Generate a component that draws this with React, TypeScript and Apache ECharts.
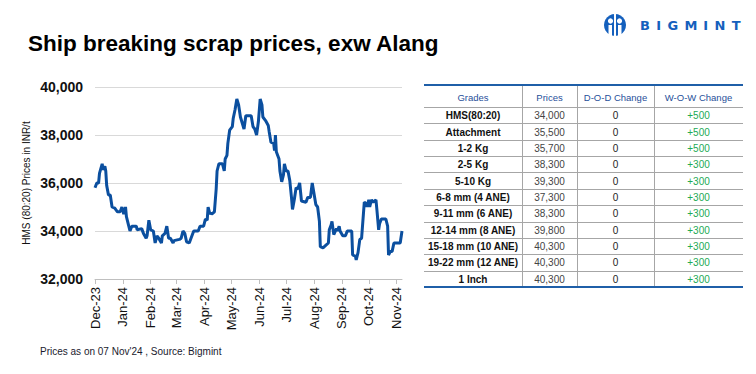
import React, { useEffect, useRef } from "react";
import * as echarts from "echarts";

// ---------- Data ----------
const DATES = [
  "2023-12-01","2023-12-03","2023-12-05","2023-12-06","2023-12-09","2023-12-10","2023-12-12","2023-12-13","2023-12-14","2023-12-16","2023-12-18","2023-12-20","2023-12-23","2023-12-26","2023-12-29","2023-12-31",
  "2024-01-02","2024-01-04","2024-01-05","2024-01-07","2024-01-09","2024-01-11","2024-01-16","2024-01-17","2024-01-22","2024-01-24","2024-01-27","2024-01-28","2024-01-30",
  "2024-02-01","2024-02-04","2024-02-06","2024-02-08","2024-02-10","2024-02-13","2024-02-14","2024-02-17","2024-02-19","2024-02-21","2024-02-23","2024-02-26","2024-02-27",
  "2024-03-04","2024-03-06","2024-03-08","2024-03-10","2024-03-12","2024-03-15","2024-03-18","2024-03-20","2024-03-25","2024-03-27","2024-03-31",
  "2024-04-02","2024-04-04","2024-04-05","2024-04-07","2024-04-08","2024-04-09","2024-04-12","2024-04-14","2024-04-15","2024-04-17","2024-04-21","2024-04-23","2024-04-24","2024-04-26","2024-04-27","2024-04-29",
  "2024-05-02","2024-05-03","2024-05-05","2024-05-07","2024-05-09","2024-05-11","2024-05-13","2024-05-15","2024-05-17","2024-05-23","2024-05-25","2024-05-27","2024-05-29","2024-05-31",
  "2024-06-02","2024-06-04","2024-06-05","2024-06-08","2024-06-11","2024-06-12","2024-06-14","2024-06-17","2024-06-18","2024-06-19","2024-06-20","2024-06-23","2024-06-24","2024-06-26","2024-06-28","2024-06-29",
  "2024-07-01","2024-07-03","2024-07-05","2024-07-07","2024-07-08","2024-07-10","2024-07-12","2024-07-14","2024-07-16","2024-07-18","2024-07-23","2024-07-25","2024-07-28","2024-07-30",
  "2024-08-01","2024-08-03","2024-08-05","2024-08-07","2024-08-08","2024-08-11","2024-08-14","2024-08-17","2024-08-18","2024-08-20","2024-08-21","2024-08-23","2024-08-26","2024-08-27","2024-08-29","2024-08-30",
  "2024-09-02","2024-09-05","2024-09-07","2024-09-12","2024-09-13","2024-09-16","2024-09-17","2024-09-19","2024-09-21","2024-09-23","2024-09-26","2024-09-28","2024-09-29",
  "2024-10-01","2024-10-02","2024-10-04","2024-10-06","2024-10-09","2024-10-10","2024-10-12","2024-10-13","2024-10-15","2024-10-20","2024-10-22","2024-10-23","2024-10-25","2024-10-27","2024-10-29",
  "2024-11-05","2024-11-07",
];
const PRICES = [
  35800,36000,36000,36400,36800,36550,36700,36500,35900,35500,35500,35000,34950,34800,34800,35000,
  34700,35000,34600,34300,34000,34200,34200,34050,34100,33900,33700,33800,34450,
  34050,34000,33500,33800,33700,33500,33800,33900,34200,33700,33700,33500,33600,
  33650,33700,34000,33900,33550,33500,33800,34000,34000,34200,34200,
  34500,34450,35000,34700,34750,34700,34800,35750,36500,36800,36800,36500,37000,37150,37650,38200,
  38350,38700,39050,39500,39250,38750,38500,38250,38800,38800,38350,38250,38000,38550,
  39500,39250,38750,38600,38400,38150,37700,37650,37350,38000,37300,37000,36500,36050,36350,36800,
  36500,36500,36100,35350,34900,35300,35800,35750,36000,35250,35200,35400,35400,36000,
  35550,35100,35000,34400,33350,33300,33400,33500,34050,34250,34400,33850,34100,34000,34200,34000,
  33800,33800,34000,34000,33000,32950,32800,33100,33650,33700,35200,35150,35000,
  35300,35000,35300,35200,35300,34900,34050,34300,34500,34500,34200,33000,33150,33150,33500,
  33500,34000,
];
const MONTH_ABBR = ["Jan","Feb","Mar","Apr","May","Jun","Jul","Aug","Sep","Oct","Nov","Dec"];
const Y_MIN = 32000;
const Y_MAX = 40000;
const Y_STEP = 2000;

const TABLE_HEADERS = ["Grades", "Prices", "D-O-D Change", "W-O-W Change"];
const GRADES = ["HMS(80:20)","Attachment","1-2 Kg","2-5 Kg","5-10 Kg","6-8 mm (4 ANE)","9-11 mm (6 ANE)","12-14 mm (8 ANE)","15-18 mm (10 ANE)","19-22 mm (12 ANE)","1 Inch"];
const GRADE_PRICES = ["34,000","35,500","35,700","38,300","39,300","37,300","38,300","39,800","40,300","40,300","40,300"];
const DOD_CHANGE = ["0","0","0","0","0","0","0","0","0","0","0"];
const WOW_CHANGE = ["+500","+500","+500","+300","+300","+300","+300","+300","+300","+300","+300"];

const TITLE = "Ship breaking scrap prices, exw Alang";
const FOOTNOTE = "Prices as on 07 Nov'24 , Source: Bigmint";
const Y_NAME = "HMS (80:20) Prices in INR/t";
const BRAND = "BIGMINT";

const FONT = "Liberation Sans";

function buildTable(): any[] {
  const els: any[] = [];
  const x0 = 424, x1 = 743;
  const colX = [424, 522, 577, 654, 743];
  const top = 85, headerH = 22;
  const rowH = (287 - (top + headerH)) / GRADES.length;
  const bottom = top + headerH + rowH * GRADES.length;
  for (let c = 1; c < colX.length - 1; c++) {
    els.push({ type: "line", shape: { x1: colX[c] + 0.5, y1: top, x2: colX[c] + 0.5, y2: bottom }, style: { stroke: "#a6a6a6", lineWidth: 1 } });
  }
  for (let r = 0; r < GRADES.length; r++) {
    const y = Math.round(top + headerH + rowH * r) + 0.5;
    els.push({ type: "line", shape: { x1: x0, y1: y, x2: x1, y2: y }, style: { stroke: "#a6a6a6", lineWidth: 1 } });
  }
  els.push({ type: "line", shape: { x1: x0, y1: top, x2: x1, y2: top }, style: { stroke: "#1f5fa8", lineWidth: 2 } });
  els.push({ type: "line", shape: { x1: x0, y1: bottom, x2: x1, y2: bottom }, style: { stroke: "#1f5fa8", lineWidth: 2 } });
  TABLE_HEADERS.forEach((h, c) => {
    els.push({
      type: "text",
      x: (colX[c] + colX[c + 1]) / 2,
      y: top + headerH / 2 + 1,
      style: { text: h, fill: "#1f4f9a", font: `9.5px "${FONT}"`, align: "center", verticalAlign: "middle" },
    });
  });
  GRADES.forEach((g, r) => {
    const cy = top + headerH + rowH * r + rowH / 2 + 0.5;
    const cells = [
      { t: g, fill: "#111", font: `bold 10px "${FONT}"` },
      { t: GRADE_PRICES[r], fill: "#444", font: `10px "${FONT}"` },
      { t: DOD_CHANGE[r], fill: "#222", font: `10px "${FONT}"` },
      { t: WOW_CHANGE[r], fill: "#22aa55", font: `10px "${FONT}"` },
    ];
    cells.forEach((cell, c) => {
      els.push({
        type: "text",
        x: (colX[c] + colX[c + 1]) / 2,
        y: cy,
        style: { text: cell.t, fill: cell.fill, font: cell.font, align: "center", verticalAlign: "middle" },
      });
    });
  });
  return els;
}

function buildLogo(): any[] {
  const cx = 615, cy = 25;
  const els: any[] = [
    { type: "circle", shape: { cx, cy, r: 11 }, style: { fill: "#1560bd" } },
    { type: "circle", shape: { cx: cx - 4.5, cy: cy - 4, r: 2.6 }, style: { fill: "#fff" } },
    { type: "circle", shape: { cx: cx + 4.5, cy: cy - 4, r: 2.6 }, style: { fill: "#fff" } },
    { type: "rect", shape: { x: cx - 1, y: cy - 11, width: 2, height: 22 }, style: { fill: "#fff" } },
    { type: "rect", shape: { x: cx - 6.5, y: cy, width: 3.5, height: 11 }, style: { fill: "#fff" } },
    { type: "rect", shape: { x: cx + 3, y: cy, width: 3.5, height: 11 }, style: { fill: "#fff" } },
  ];
  const widths: Record<string, number> = { B: 10, I: 4.9, G: 10.6, M: 12.6, N: 10.9, T: 9.5 };
  let x = 640;
  const gap = 6.3;
  BRAND.split("").forEach((ch) => {
    els.push({
      type: "text",
      x,
      y: cy,
      style: { text: ch, fill: "#1560bd", font: `bold 13px "DejaVu Sans"`, verticalAlign: "middle" },
    });
    x += (widths[ch] || 10) + gap;
  });
  return els;
}

export default function App() {
  const ref = useRef<HTMLDivElement>(null);
  useEffect(() => {
    if (!ref.current) return;
    const chart = echarts.init(ref.current, null, { renderer: "svg" });
    const DAY = 24 * 3600 * 1000;
    const data = DATES.map((d, i) => [d, PRICES[i]]);
    chart.setOption({
      animation: false,
      backgroundColor: "#fff",
      textStyle: { fontFamily: FONT },
      grid: { left: 95, right: 354, top: 87, bottom: 95, containLabel: false },
      xAxis: {
        type: "time",
        min: DATES[0],
        max: DATES[DATES.length - 1],
        minInterval: 28 * DAY,
        maxInterval: 31 * DAY,
        splitNumber: 12,
        axisLine: { show: true, lineStyle: { color: "#bfbfbf", width: 1 } },
        axisTick: { show: true, length: 5, lineStyle: { color: "#bfbfbf" } },
        splitLine: { show: false },
        axisLabel: {
          rotate: 90,
          margin: 8,
          color: "#111",
          fontSize: 13,
          fontFamily: FONT,
          showMinLabel: true,
          hideOverlap: false,
          formatter: (v: number) => {
            const d = new Date(v);
            return `${MONTH_ABBR[d.getMonth()]}-${String(d.getFullYear()).slice(2)}`;
          },
        },
      },
      yAxis: {
        type: "value",
        min: Y_MIN,
        max: Y_MAX,
        interval: Y_STEP,
        name: Y_NAME,
        nameLocation: "middle",
        nameGap: 64,
        nameTextStyle: { fontSize: 10, color: "#111", fontFamily: FONT },
        axisLine: { show: false },
        axisTick: { show: false },
        splitLine: { lineStyle: { color: "#d9d9d9", width: 1 } },
        axisLabel: {
          margin: 12,
          color: "#111",
          fontSize: 14,
          fontWeight: "bold",
          fontFamily: FONT,
          formatter: (v: number) => v.toLocaleString("en-US"),
        },
      },
      series: [
        {
          type: "line",
          data,
          showSymbol: false,
          symbol: "none",
          lineStyle: { color: "#0b4f9f", width: 3 },
          itemStyle: { color: "#0b4f9f" },
        },
      ],
      graphic: [
        {
          type: "text",
          x: 28,
          y: 43,
          style: { text: TITLE, fill: "#000", font: `bold 22.5px "${FONT}"`, verticalAlign: "middle" },
        },
        {
          type: "text",
          x: 40,
          y: 351,
          style: { text: FOOTNOTE, fill: "#1a1a2e", font: `10px "${FONT}"`, verticalAlign: "middle" },
        },
        ...buildLogo(),
        ...buildTable(),
      ],
    });
    return () => chart.dispose();
  }, []);
  return <div ref={ref} style={{ position: "fixed", left: 0, top: 0, width: 756, height: 374 }} />;
}
